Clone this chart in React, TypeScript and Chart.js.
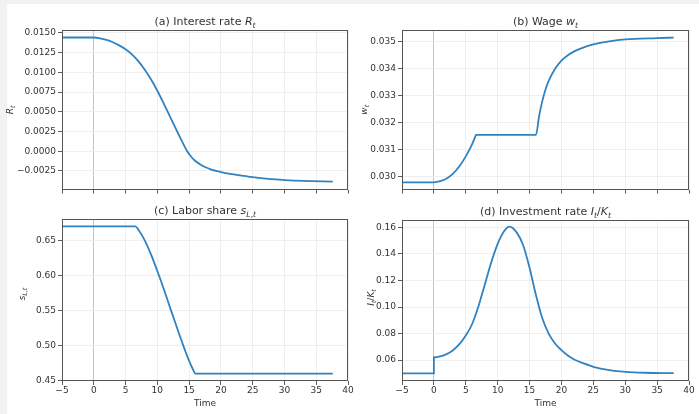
import React, { useEffect, useRef } from 'react';
import { Chart, registerables } from 'chart.js';

Chart.register(...registerables);

// ---------- data ----------
const X_TICKS = [-5, 0, 5, 10, 15, 20, 25, 30, 35, 40];

const timeA = [-5, 0, 1, 2, 3, 4, 5, 6, 7, 8, 9, 10, 11, 12, 13, 14, 14.7, 15.2, 15.7, 16.2, 16.7, 17.5, 18.5, 19.4, 20.2, 21.2, 22.5, 25, 27.5, 30, 33, 37.6];
const rateA = [0.01442, 0.01442, 0.01432, 0.01412, 0.01382, 0.01342, 0.01292, 0.01227, 0.01142, 0.01037, 0.00912, 0.00767, 0.00607, 0.00439, 0.00269, 0.00106, 0.0, -0.00058, -0.00103, -0.00138, -0.00166, -0.00201, -0.00233, -0.00253, -0.00268, -0.00284, -0.00301, -0.0033, -0.00352, -0.00366, -0.00377, -0.00385];
const yTicksA = [-0.0025, 0, 0.0025, 0.005, 0.0075, 0.01, 0.0125, 0.015];

const timeB = [-5, 0, 1, 2, 3, 4, 5, 6, 6.45, 6.6, 16, 16.5, 17, 17.5, 18, 19, 20, 21, 22, 23.5, 25, 27.5, 30, 35, 37.6];
const wageB = [0.0298, 0.0298, 0.02984, 0.02994, 0.03012, 0.03039, 0.03076, 0.03121, 0.03147, 0.03155, 0.03155, 0.03225, 0.0328, 0.03323, 0.03355, 0.034, 0.0343, 0.0345, 0.03464, 0.03479, 0.0349, 0.03501, 0.03508, 0.03513, 0.03515];
const yTicksB = [0.030, 0.031, 0.032, 0.033, 0.034, 0.035];

const timeC = [-5, 6.55, 7, 8, 9, 10, 11, 12, 13, 14, 15, 15.6, 16, 37.6];
const laborC = [0.6707, 0.6707, 0.6662, 0.651, 0.6305, 0.6067, 0.5814, 0.5543, 0.528, 0.502, 0.478, 0.466, 0.4597, 0.4597];
const yTicksC = [0.45, 0.5, 0.55, 0.6, 0.65];

const timeD = [-5, 0, 0, 1, 2, 3, 4, 5, 6, 7, 8, 9, 10, 11, 11.85, 13, 14, 15, 16, 17, 18, 19, 20, 21, 22, 23.5, 25, 27.5, 30, 33, 37.6];
const investD = [0.05, 0.05, 0.062, 0.0628, 0.0645, 0.0675, 0.072, 0.0785, 0.0872, 0.1007, 0.1172, 0.1337, 0.1475, 0.157, 0.1605, 0.156, 0.1465, 0.1295, 0.109, 0.0915, 0.08, 0.0725, 0.0675, 0.0635, 0.0605, 0.0575, 0.055, 0.0525, 0.0512, 0.0505, 0.0502];
const yTicksD = [0.06, 0.08, 0.1, 0.12, 0.14, 0.16];

// ---------- style ----------
const FAMILY = '"DejaVu Sans", "Liberation Sans", sans-serif';
const LINE = '#3182c0';
const GRID = '#ebebeb';
const ZERO = '#a9b6c3';
const FRAME = '#555555';
const TEXT = '#333333';

type Part = { t: string; it?: boolean; sub?: boolean };

interface Panel {
  key: string;
  left: number; top: number; w: number; h: number;
  yW: number; xH: number; padTop: number; padRight: number;
  xs: number[]; ys: number[]; yMin: number; yMax: number; yTicks: number[]; dec: number;
  showX: boolean;
  title: Part[]; ylabel: Part[]; ylx: number; ylyOff: number;
}

const RT: Part[] = [{ t: 'R', it: true }, { t: 't', it: true, sub: true }];
const WT: Part[] = [{ t: 'w', it: true }, { t: 't', it: true, sub: true }];
const SLT: Part[] = [{ t: 's', it: true }, { t: 'L', it: true, sub: true }, { t: ',', sub: true }, { t: 't', it: true, sub: true }];
const IKT: Part[] = [{ t: 'I', it: true }, { t: 't', it: true, sub: true }, { t: '/' }, { t: 'K', it: true }, { t: 't', it: true, sub: true }];

const PANELS: Panel[] = [
  {
    key: 'a', left: 0, top: 0, w: 360, h: 197, yW: 62, xH: 5, padTop: 30, padRight: 12,
    xs: timeA, ys: rateA, yMin: -0.00487, yMax: 0.01537, yTicks: yTicksA, dec: 4, showX: false,
    title: [{ t: '(a) Interest rate ' }, ...RT], ylabel: RT, ylx: -52, ylyOff: 0,
  },
  {
    key: 'b', left: 350, top: 0, w: 349, h: 197, yW: 52, xH: 5, padTop: 30, padRight: 10,
    xs: timeB, ys: wageB, yMin: 0.02953, yMax: 0.03543, yTicks: yTicksB, dec: 3, showX: false,
    title: [{ t: '(b) Wage ' }, ...WT], ylabel: WT, ylx: -38, ylyOff: 0,
  },
  {
    key: 'c', left: 0, top: 197, w: 362, h: 217, yW: 62, xH: 33, padTop: 22, padRight: 14,
    xs: timeC, ys: laborC, yMin: 0.44915, yMax: 0.68125, yTicks: yTicksC, dec: 2, showX: true,
    title: [{ t: '(c) Labor share ' }, ...SLT], ylabel: SLT, ylx: -40, ylyOff: -6,
  },
  {
    key: 'd', left: 350, top: 197, w: 349, h: 217, yW: 52, xH: 33, padTop: 23, padRight: 10,
    xs: timeD, ys: investD, yMin: 0.0443, yMax: 0.1655, yTicks: yTicksD, dec: 2, showX: true,
    title: [{ t: '(d) Investment rate ' }, ...IKT], ylabel: IKT, ylx: -31, ylyOff: -3,
  },
];

function fmt(v: number, dec: number): string {
  let s = v.toFixed(dec);
  if (/^-0\.?0*$/.test(s)) s = s.slice(1);
  return s.replace('-', '\u2212');
}

function drawRich(ctx: CanvasRenderingContext2D, parts: Part[], x: number, y: number, size: number) {
  const font = (p: Part) => `${p.it ? 'italic ' : ''}${p.sub ? size * 0.7 : size}px ${FAMILY}`;
  let total = 0;
  const widths = parts.map((p) => {
    ctx.font = font(p);
    const w = ctx.measureText(p.t).width;
    total += w;
    return w;
  });
  let cx = x - total / 2;
  ctx.textAlign = 'left';
  ctx.textBaseline = 'alphabetic';
  parts.forEach((p, i) => {
    ctx.font = font(p);
    ctx.fillText(p.t, cx, y + (p.sub ? size * 0.25 : 0));
    cx += widths[i];
  });
}

function makeDecor(p: Panel) {
  return {
    id: 'decor_' + p.key,
    afterDraw(chart: any) {
      const ctx: CanvasRenderingContext2D = chart.ctx;
      const ca = chart.chartArea;
      ctx.save();
      ctx.strokeStyle = FRAME;
      ctx.lineWidth = 1;
      ctx.strokeRect(Math.round(ca.left) + 0.5, Math.round(ca.top) + 0.5, Math.round(ca.right - ca.left) - 1, Math.round(ca.bottom - ca.top) - 1);
      ctx.fillStyle = TEXT;
      const cxm = (ca.left + ca.right) / 2;
      drawRich(ctx, p.title, cxm, ca.top - 5, 11);
      if (p.showX) {
        drawRich(ctx, [{ t: 'Time' }], cxm, ca.bottom + 25, 9);
      }
      ctx.save();
      ctx.translate(ca.left + p.ylx, (ca.top + ca.bottom) / 2 + p.ylyOff);
      ctx.rotate(-Math.PI / 2);
      drawRich(ctx, p.ylabel, 0, 3, 9);
      ctx.restore();
      ctx.restore();
    },
  };
}

function PanelChart({ p }: { p: Panel }) {
  const ref = useRef<HTMLCanvasElement | null>(null);
  useEffect(() => {
    const canvas = ref.current;
    if (!canvas) return;
    const points = p.xs.map((x, i) => ({ x, y: p.ys[i] }));
    const chart = new Chart(canvas, {
      type: 'line',
      data: {
        datasets: [
          {
            data: points,
            borderColor: LINE,
            borderWidth: 1.8,
            pointRadius: 0,
            fill: false,
            cubicInterpolationMode: 'monotone',
          } as any,
        ],
      },
      options: {
        animation: false,
        responsive: false,
        maintainAspectRatio: false,
        events: [],
        layout: { padding: { left: 0, top: p.padTop, right: p.padRight, bottom: 0 } },
        plugins: { legend: { display: false }, tooltip: { enabled: false }, title: { display: false } },
        scales: {
          x: {
            type: 'linear',
            min: -5,
            max: 40,
            afterBuildTicks: (s: any) => { s.ticks = X_TICKS.map((v) => ({ value: v })); },
            afterFit: (s: any) => { s.height = p.xH; },
            border: { display: false },
            grid: {
              color: (c: any) => (c.tick && c.tick.value === 0 ? ZERO : GRID),
              lineWidth: 0.8,
              drawTicks: true,
              tickLength: 4,
              tickColor: TEXT,
              tickWidth: 0.8,
            },
            ticks: {
              display: p.showX,
              autoSkip: false,
              maxRotation: 0,
              padding: 0,
              color: TEXT,
              font: { size: 9, family: FAMILY },
              callback: (v: any) => fmt(Number(v), 0),
            },
          },
          y: {
            type: 'linear',
            min: p.yMin,
            max: p.yMax,
            afterBuildTicks: (s: any) => { s.ticks = p.yTicks.map((v) => ({ value: v })); },
            afterFit: (s: any) => { s.width = p.yW; },
            border: { display: false },
            grid: {
              color: GRID,
              lineWidth: 0.8,
              drawTicks: true,
              tickLength: 4,
              tickColor: TEXT,
              tickWidth: 0.8,
            },
            ticks: {
              autoSkip: false,
              padding: 2,
              color: TEXT,
              font: { size: 9, family: FAMILY },
              callback: (v: any) => fmt(Number(v), p.dec),
            },
          },
        },
      } as any,
      plugins: [makeDecor(p)],
    });
    return () => chart.destroy();
  }, [p]);
  return (
    <canvas
      ref={ref}
      width={p.w}
      height={p.h}
      style={{ position: 'absolute', left: p.left, top: p.top, width: p.w, height: p.h }}
    />
  );
}

export default function App() {
  return (
    <div style={{ position: 'fixed', left: 0, top: 0, width: 699, height: 414, background: '#f2f2f2', overflow: 'hidden' }}>
      <div style={{ position: 'absolute', left: 7, top: 4, right: 0, bottom: 0, background: '#ffffff' }} />
      {PANELS.map((p) => (
        <PanelChart key={p.key} p={p} />
      ))}
    </div>
  );
}
